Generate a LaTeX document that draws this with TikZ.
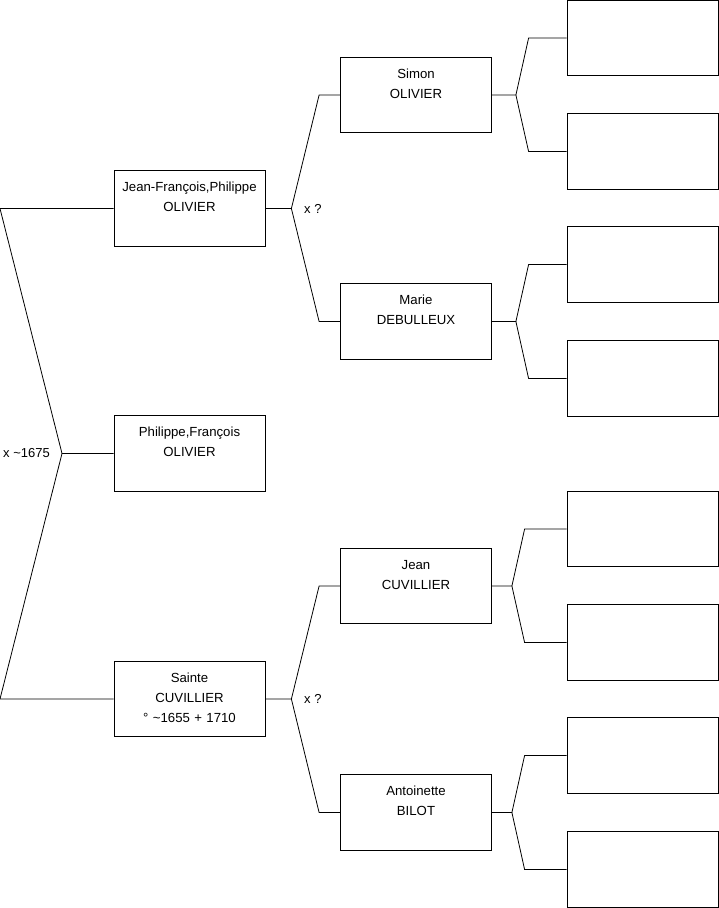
\documentclass[tikz,border=0pt]{standalone}
\usepackage{fontspec}
\setmainfont{Liberation Sans}

\tikzset{
  person/.style={draw, line width=0.8pt, inner sep=0pt, text width=151pt,
    align=center, text height=21pt, text depth=54.5pt,
    font=\fontsize{13.2}{20}\selectfont},
  link/.style={line width=0.8pt},
  union/.style={anchor=west, inner sep=0pt, font=\fontsize{13}{16}\selectfont},
}

\begin{document}
\begin{tikzpicture}[x=1pt, y=-1pt]
    \useasboundingbox (0,0) rectangle (719,908);

    % 第一代
    \node[person] (jf) at (189.5,208.5) {Jean-François,Philippe\\OLIVIER};
    \node[person] (pf) at (189.5,453.5) {Philippe,François\\OLIVIER};
    \node[person] (sc) at (189.5,699) {Sainte\\CUVILLIER\\° \textasciitilde1655 + 1710};

    % 第二代
    \node[person] (simon) at (416,95) {Simon\\OLIVIER};
    \node[person] (marie) at (416,321.5) {Marie\\DEBULLEUX};
    \node[person] (jean) at (416,586) {Jean\\CUVILLIER};
    \node[person] (anto) at (416,812.5) {Antoinette\\BILOT};

    % 空白的方框
    \foreach \n/\y in {1/38,2/151.5,3/264.5,4/378.5,5/529,6/642.5,7/755.5,8/869.5}
        \node[person] (e\n) at (642.5,\y) {};

    % 左边的括号
    \coordinate (a1) at (0,208.5);
    \coordinate (m1) at (62,453.5);
    \coordinate (a2) at (0,699);
    \draw[link] (jf.west) -- (a1) -- (m1) -- (pf.west);
    \draw[link] (m1) -- (a2) -- (sc.west);
    \node[union] (u1) at (3,453) {x \textasciitilde1675};

    % 父母的分叉
    \foreach \p/\fs/\es/\ca/\cb in {jf/26/21/simon/marie, sc/26/21/jean/anto,
        simon/24/38/e1/e2, marie/24/38/e3/e4, jean/20/42/e5/e6, anto/20/42/e7/e8} {
        \coordinate (\p-f) at ([xshift=\fs pt]\p.east);
        \coordinate (\ca-e) at ([xshift=-\es pt]\ca.west);
        \coordinate (\cb-e) at ([xshift=-\es pt]\cb.west);
        \draw[link] (\p.east) -- (\p-f) -- (\ca-e) -- (\ca.west);
        \draw[link] (\p-f) -- (\cb-e) -- (\cb.west);
    }
    \node[union] (u2) at (304,208.5) {x ?};
    \node[union] (u3) at (304,698.5) {x ?};
\end{tikzpicture}
\end{document}
